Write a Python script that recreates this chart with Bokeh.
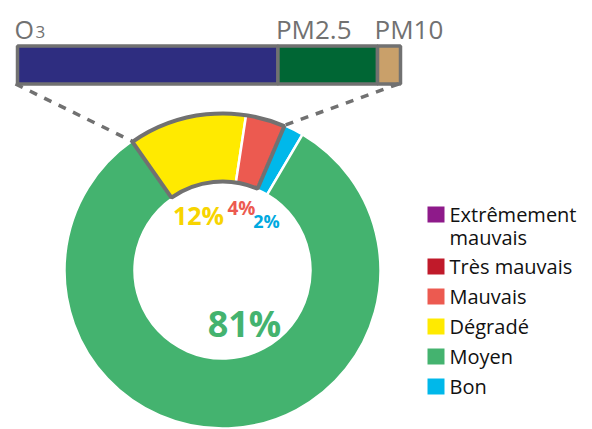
import numpy as np
from bokeh.plotting import figure
from bokeh.models import Range1d, ColumnDataSource
from bokeh.core.properties import value
from bokeh.embed import file_html
from bokeh.resources import INLINE

# ---- data ----
slice_names = ["Dégradé", "Mauvais", "Bon", "Moyen"]
slice_values = [12, 4, 2, 81]
slice_labels = ["12%", "4%", "2%", "81%"]
slice_colors = ["#ffea00", "#ec5a50", "#00b8ea", "#44b36f"]
label_colors = ["#f7d400", "#ec5a50", "#00a9e0", "#44b36f"]

pollutants = ["O3", "PM2.5", "PM10"]
pollutant_values = [68, 26, 6]
pollutant_colors = ["#2e2d80", "#006634", "#c9a06a"]

legend_labels = ["Extrêmement\nmauvais", "Très mauvais", "Mauvais", "Dégradé", "Moyen", "Bon"]
legend_colors = ["#8e1a8a", "#c01a2a", "#ec5a50", "#ffea00", "#44b36f", "#00b8ea"]

W, H = 592, 429
GREY = "#717171"
FONT = "Open Sans"

p = figure(width=W, height=H, output_backend="svg", toolbar_location=None,
           x_range=Range1d(0, W), y_range=Range1d(0, H), min_border=0)
p.axis.visible = False
p.grid.visible = False
p.outline_line_color = None
p.background_fill_color = "white"

def Y(ref_y):
    return H - ref_y

# ---- donut ----
cx, cy = 222, Y(270)
r_out, r_in = 158, 88
start_deg = 125.0
vals = np.array(slice_values, dtype=float)
frac = vals / vals.sum()
cum = np.concatenate([[0], np.cumsum(frac)])
a_hi = np.radians(start_deg - 360 * cum[:-1])
a_lo = np.radians(start_deg - 360 * cum[1:])
src = ColumnDataSource(dict(start=a_lo, end=a_hi, color=slice_colors))
p.annular_wedge(x=cx, y=cy, inner_radius=r_in, outer_radius=r_out,
                start_angle="start", end_angle="end", fill_color="color",
                line_color="white", line_width=2.5, source=src)

# highlighted group (Dégradé + Mauvais)
g_lo, g_hi = a_lo[1], a_hi[0]
p.annular_wedge(x=cx, y=cy, inner_radius=r_in + 1, outer_radius=r_out - 1,
                start_angle=g_lo, end_angle=g_hi, fill_color=None,
                line_color=GREY, line_width=4)

# ---- stacked bar (pollutant breakdown) ----
pv = np.array(pollutant_values, dtype=float)
tot = pv.sum()
bar_l_px, bar_r_px = 17, 400
scale = tot / (bar_r_px - bar_l_px)
p.extra_x_ranges = {"bar": Range1d(-bar_l_px * scale, -bar_l_px * scale + W * scale)}
pcum = np.concatenate([[0], np.cumsum(pv)])
bsrc = ColumnDataSource(dict(left=pcum[:-1], right=pcum[1:], color=pollutant_colors))
bar_y = Y(64.5)
bar_h = 38
p.hbar(y=bar_y, left="left", right="right", height=bar_h, fill_color="color",
       line_color=GREY, line_width=3.5, source=bsrc, x_range_name="bar")

# pollutant labels
px_left = bar_l_px + pcum[:-1] / scale
p.text(x=[px_left[0] - 3], y=[Y(28.5)], text=["O"], text_font=value(FONT),
       text_font_size="25px", text_color=GREY, text_baseline="middle")
p.text(x=[px_left[0] + 18], y=[Y(31.5)], text=["3"], text_font=value(FONT),
       text_font_size="17px", text_color=GREY, text_baseline="middle")
p.text(x=[px_left[1] - 2, px_left[2] - 3], y=[Y(28.5), Y(28.5)], text=pollutants[1:],
       text_font=value(FONT), text_font_size="26px", text_color=GREY,
       text_baseline="middle")

# dashed connector lines
bar_bottom = bar_y - bar_h / 2
p.segment(x0=[bar_l_px - 2, bar_r_px - 2], y0=[bar_bottom, bar_bottom],
          x1=[cx + r_out * np.cos(g_hi), cx + r_out * np.cos(g_lo)],
          y1=[cy + r_out * np.sin(g_hi), cy + r_out * np.sin(g_lo)],
          line_color=GREY, line_width=3.5, line_dash="8 8")

# percentage labels
lx = [198, 241, 266, 244]
ly = [Y(214), Y(207), Y(220), Y(323)]
lsize = ["25px", "19px", "18px", "36px"]
for i in range(4):
    p.text(x=[lx[i]], y=[ly[i]], text=[slice_labels[i]], text_font=value(FONT),
           text_font_style="bold", text_font_size=lsize[i], text_color=label_colors[i],
           text_align="center", text_baseline="middle")

# ---- legend ----
leg_y = [214, 266, 296, 326, 356, 386]
p.rect(x=[435.5] * 6, y=[Y(v) for v in leg_y], width=17, height=16,
       fill_color=legend_colors, line_color=None)
p.text(x=[449] * 6, y=[Y(v) for v in leg_y], text=[l.split("\n")[0] for l in legend_labels],
       text_font=value(FONT), text_font_size="20px", text_color="#111111",
       text_baseline="middle")
p.text(x=[449], y=[Y(237)], text=[legend_labels[0].split("\n")[1]],
       text_font=value(FONT), text_font_size="20px", text_color="#111111",
       text_baseline="middle")

open("out.html", "w").write(file_html(p, INLINE))
